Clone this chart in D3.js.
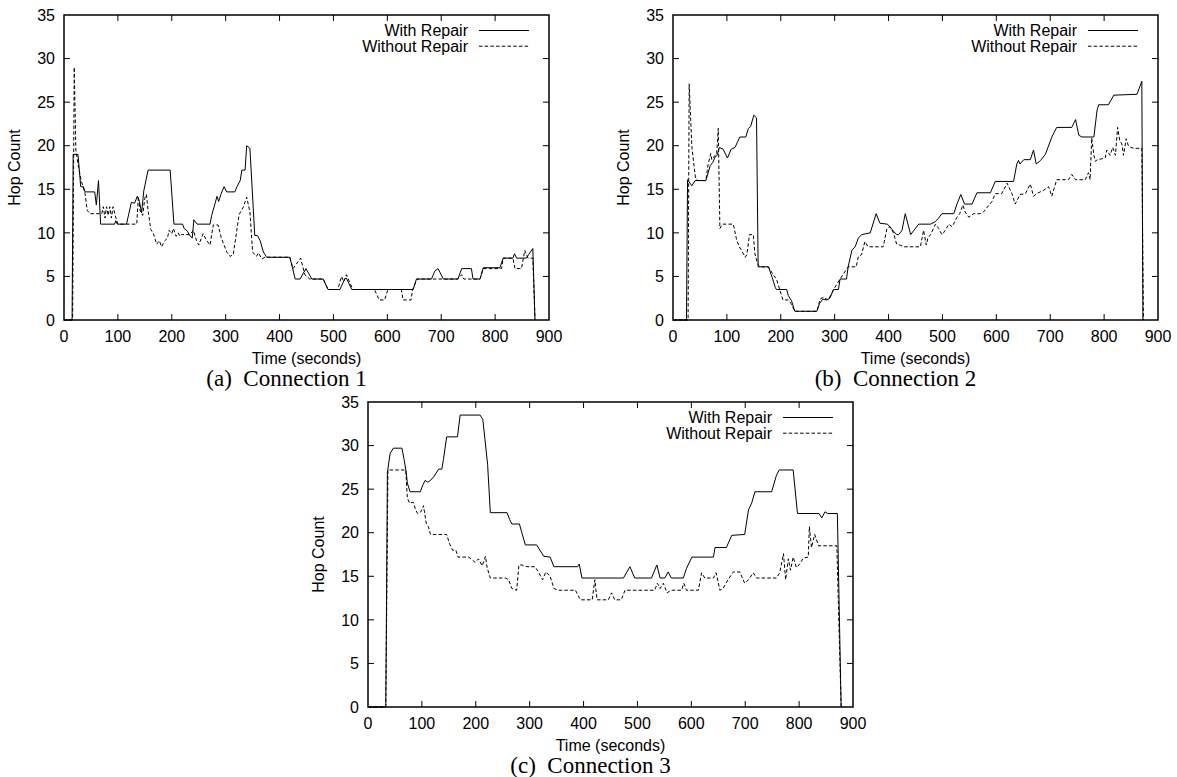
<!DOCTYPE html>
<html>
<head>
<meta charset="utf-8">
<script src="https://cdn.jsdelivr.net/npm/d3@7"></script>
<style>
  body { margin: 0; background: #fff; }
  svg text { font-family: "Liberation Sans", Arial, sans-serif; fill: #000; }
  svg text.caption { font-family: "Liberation Serif", "Times New Roman", serif; white-space: pre; }
</style>
</head>
<body>
<div id="chart"></div>
<script>
// axis ticks and labels
const xTicks = [0, 100, 200, 300, 400, 500, 600, 700, 800, 900];
const yTicks = [0, 5, 10, 15, 20, 25, 30, 35];
const seriesNames = ["With Repair", "Without Repair"];
const captions = ["(a)  Connection 1", "(b)  Connection 2", "(c)  Connection 3"];

// [time, hop count]
const conn1Repair = [[0,0],[15,0],[17,19],[26,19],[31,15.3],[36,15.3],[39,14.7],[57,14.7],[60,13.2],[64,16],[68,11],[94,11],[96,11.4],[99,11],[116,11],[125,13.5],[131,13.4],[136,14.2],[140,13.6],[144,12.3],[148,14.8],[156,17.2],[197,17.2],[204,11],[220,11],[223,10.5],[229,10.2],[232,9.8],[238,9.4],[241,11.5],[247,11],[271,11],[274,12],[280,13.3],[284,14.2],[287,13.6],[291,14.4],[297,15.3],[302,14.7],[317,14.7],[321,15.3],[327,16],[330,17.2],[336,17.2],[339,20],[345,19.7],[354,9.7],[359,9.7],[364,9.1],[370,7.8],[376,7.2],[419,7.2],[424,6],[429,4.7],[438,4.7],[449,5.9],[460,4.7],[481,4.7],[490,3.5],[512,3.5],[521,4.7],[524,4.8],[534,3.5],[648,3.5],[654,4.7],[682,4.7],[688,5.6],[694,5.9],[704,4.7],[731,4.7],[738,5.9],[756,5.9],[759,4.7],[772,4.7],[778,6],[809,6],[815,7.1],[833,7.1],[836,7.6],[840,7.1],[858,7.1],[862,7.5],[870,8.2],[874,0]];
const conn1NoRepair = [[0,0],[16,0],[19,29],[22,19.5],[27,17.5],[32,16],[39,14.5],[43,12.6],[48,12.2],[70,12.2],[73,13],[76,11.7],[79,13],[82,12],[85,13],[88,11.7],[91,13],[96,11.8],[100,11],[135,11],[138,14.2],[141,12.6],[146,12],[150,14],[153,14.4],[156,12.6],[161,10.4],[166,9.9],[172,8.7],[177,9.1],[181,8.4],[187,9.1],[192,9.4],[195,10.3],[200,9.9],[203,10.5],[208,9.6],[212,10],[215,9.6],[218,9.8],[234,9.8],[240,10.3],[246,9.1],[250,8.6],[258,9.9],[265,9.1],[271,8.6],[277,10.9],[286,10.9],[292,9.4],[302,7.8],[308,7.3],[314,7.5],[320,10],[325,12.1],[333,13],[339,14.1],[345,12.4],[350,7.8],[357,7.3],[361,7.7],[367,7],[373,7.2],[419,7.2],[425,5.9],[439,7.1],[447,5.2],[456,4.7],[481,4.7],[490,3.5],[508,3.5],[515,5],[519,4.4],[524,5.2],[536,3.5],[576,3.5],[585,2.3],[595,2.3],[601,3.5],[626,3.5],[629,2.3],[644,2.3],[647,3.5],[655,4.7],[731,4.7],[738,5.2],[742,4.7],[772,4.7],[778,5.9],[812,5.9],[815,7.1],[833,7.1],[837,5.9],[849,5.9],[855,8],[861,7.1],[870,7.1],[874,0]];

const conn2Repair = [[0,0],[25,0],[27,16.1],[35,15.4],[41,16],[61,16],[69,17.7],[74,18.1],[78,18.7],[82,18.9],[86,19.8],[93,19.6],[101,18.6],[108,19.6],[115,19.8],[124,21],[135,21],[140,22],[144,22.2],[150,23.5],[155,23.2],[158,6.1],[177,6.1],[180,5.6],[185,4.7],[190,3.7],[192,3.5],[211,3.5],[214,2.8],[220,2.2],[226,1],[267,1],[272,1.9],[278,2.4],[285,2.3],[291,2.5],[298,3.5],[307,3.5],[310,4.7],[322,4.7],[325,6.1],[332,8],[338,8.4],[344,9.4],[350,9.8],[366,10],[377,12.2],[384,11.1],[398,11],[409,10.2],[415,9.8],[419,9.8],[425,10.3],[431,12.2],[441,9.8],[456,11],[478,11],[487,11.3],[493,11.7],[499,12.2],[521,12.2],[527,13.3],[534,14.4],[541,13.3],[555,13.3],[564,14.6],[589,14.6],[598,15.9],[632,15.9],[638,17.9],[641,18.3],[644,17.9],[651,18.4],[663,18.4],[669,19.5],[674,17.9],[682,18.3],[691,19],[703,21],[712,22.1],[740,22.1],[747,23],[753,21.2],[759,21],[781,21],[787,24.1],[790,24.7],[808,24.7],[818,25.8],[861,25.9],[870,27.4],[872,0]];
const conn2NoRepair = [[0,0],[28,0],[30,27.1],[35,19.9],[39,17.7],[42,16.2],[46,16],[61,16],[65,17.8],[70,19.1],[72,18.4],[78,18.9],[81,19],[84,22],[87,10.5],[92,11],[112,11],[118,9.2],[123,8.4],[127,8],[134,7.2],[137,7.5],[142,9.8],[149,9.8],[152,7.6],[156,6.7],[160,6.1],[177,6.1],[186,5.2],[192,4.7],[198,3.5],[204,2.3],[214,2.3],[219,1.9],[226,1],[267,1],[273,2.4],[279,2.6],[288,2.3],[298,3.5],[310,4.7],[325,6.1],[340,6.1],[344,7.3],[350,7.5],[356,9],[362,8.4],[390,8.4],[397,10.5],[403,10.7],[409,10],[415,8.7],[421,8.6],[428,8.4],[459,8.4],[465,10.3],[470,8.6],[473,9.4],[478,9.8],[487,11],[493,10.5],[499,9.8],[502,10],[512,11],[518,10.7],[527,11.8],[532,12.2],[538,13.2],[542,12.4],[549,11.8],[558,12.2],[570,12.2],[576,12.4],[592,13.6],[598,14.5],[610,14.5],[620,15.7],[629,14.5],[635,13.3],[644,14.4],[654,14.5],[663,15.6],[669,14.2],[675,14.5],[688,14.9],[697,15.3],[703,14.2],[712,16.1],[734,16.1],[740,16.7],[747,16.1],[765,16.1],[771,16.9],[774,16.1],[777,20.9],[781,18.9],[784,18.2],[787,18.4],[796,18.5],[802,18.6],[805,19.5],[811,18.9],[816,19.8],[821,18.9],[825,22.1],[829,20.6],[833,20.2],[836,18.9],[841,20.8],[845,20],[850,19.8],[855,19.7],[870,19.7],[873,0]];

const conn3Repair = [[0,0],[33,0],[36,26.9],[41,29.1],[47,29.7],[63,29.7],[67,28.4],[71,26.9],[73,25.7],[78,24.7],[97,24.7],[102,25.5],[106,26],[111,25.8],[116,26],[123,26.5],[131,27.3],[137,27.3],[140,28.4],[146,31],[166,31],[171,33.5],[208,33.5],[213,33],[217,30.7],[222,27.8],[227,22.3],[258,22.3],[263,21.5],[267,21],[281,21],[285,20.1],[292,18.6],[313,18.6],[319,18],[326,17.3],[338,17.2],[345,16.1],[389,16.1],[392,16.4],[397,14.8],[474,14.8],[486,16.1],[495,14.8],[526,14.8],[536,16.3],[542,14.8],[551,14.8],[557,15.5],[563,14.8],[585,14.8],[591,15.9],[601,17.2],[641,17.2],[644,18.3],[665,18.3],[675,19.7],[699,19.8],[706,22.6],[712,23.4],[718,24.7],[749,24.7],[758,26.6],[763,27.2],[789,27.2],[797,22.2],[837,22.2],[842,21.7],[848,22.4],[853,22.2],[871,22.2],[878,0]];
const conn3NoRepair = [[0,0],[33,0],[37,27.2],[70,27.2],[73,24],[77,23.4],[84,23.5],[88,22.7],[92,22.2],[98,22.4],[103,23.1],[108,21.1],[112,20.7],[116,19.8],[146,19.8],[151,18.8],[157,18],[163,18],[167,17.2],[187,17.2],[193,16.9],[199,16.6],[205,17],[212,16.2],[218,17.3],[221,16],[227,14.8],[255,14.8],[261,14.6],[267,13.6],[276,13.4],[280,16.3],[286,16.3],[295,16.1],[310,16.1],[317,15.4],[324,14.6],[330,15.5],[338,15],[345,13.6],[354,13.4],[385,13.4],[394,12.3],[416,12.3],[421,14.6],[425,12.3],[446,12.3],[452,13.1],[458,12.3],[470,12.3],[477,13.4],[532,13.4],[537,14.2],[542,13.6],[548,14.2],[555,13.1],[562,13.4],[582,13.4],[586,14.2],[591,13.4],[613,13.4],[619,15.4],[625,14.8],[641,14.8],[646,15.4],[653,13.4],[659,13.6],[668,14.6],[678,15.5],[690,15.5],[699,14.2],[706,14.6],[715,15.4],[721,14.8],[758,14.8],[764,15.4],[771,17.6],[775,14.6],[780,17],[784,15.7],[789,17.2],[795,16],[801,16.4],[808,17.1],[817,17.2],[819,20.7],[823,18.3],[829,19.8],[836,18.5],[870,18.5],[878,0]];

const panels = [
  { left: 64, top: 15, caption: captions[0], series: [conn1Repair, conn1NoRepair] },
  { left: 673, top: 15, caption: captions[1], series: [conn2Repair, conn2NoRepair] },
  { left: 368, top: 402, caption: captions[2], series: [conn3Repair, conn3NoRepair] }
];

const W = 1177, H = 777;
const pw = 485, ph = 305;
const dashes = [null, "3.5,2.2"];

const svg = d3.select("#chart")
  .append("svg")
  .attr("width", W)
  .attr("height", H)
  .style("display", "block");

svg.append("rect").attr("width", W).attr("height", H).attr("fill", "#fff");

const x = d3.scaleLinear().domain([0, 900]).range([0, pw]);
const y = d3.scaleLinear().domain([0, 35]).range([ph, 0]);

const line = d3.line()
  .x((d) => x(d[0]))
  .y((d) => y(d[1]));

panels.forEach((p) => {
  const g = svg.append("g").attr("transform", `translate(${p.left},${p.top})`);

  // inward ticks on all four sides (gnuplot mirror style)
  const ticks = g.append("g").attr("stroke", "#000").attr("stroke-width", 1);
  xTicks.slice(1, -1).forEach((t) => {
    ticks.append("line").attr("x1", x(t)).attr("x2", x(t)).attr("y1", ph).attr("y2", ph - 6);
    ticks.append("line").attr("x1", x(t)).attr("x2", x(t)).attr("y1", 0).attr("y2", 6);
  });
  yTicks.slice(1, -1).forEach((t) => {
    ticks.append("line").attr("x1", 0).attr("x2", 6).attr("y1", y(t)).attr("y2", y(t));
    ticks.append("line").attr("x1", pw).attr("x2", pw - 6).attr("y1", y(t)).attr("y2", y(t));
  });

  // data lines
  p.series.forEach((s, i) => {
    g.append("path")
      .datum(s)
      .attr("d", line)
      .attr("fill", "none")
      .attr("stroke", "#000")
      .attr("stroke-width", 1)
      .attr("stroke-linejoin", "round")
      .attr("stroke-dasharray", dashes[i]);
  });

  // frame
  g.append("rect")
    .attr("width", pw)
    .attr("height", ph)
    .attr("fill", "none")
    .attr("stroke", "#000")
    .attr("stroke-width", 1.5);

  // tick labels
  g.selectAll(".xl")
    .data(xTicks)
    .enter()
    .append("text")
    .attr("x", (d) => x(d))
    .attr("y", ph + 22)
    .attr("text-anchor", "middle")
    .style("font-size", "16px")
    .text((d) => d);

  g.selectAll(".yl")
    .data(yTicks)
    .enter()
    .append("text")
    .attr("x", -9)
    .attr("y", (d) => y(d))
    .attr("dy", "0.36em")
    .attr("text-anchor", "end")
    .style("font-size", "16px")
    .text((d) => d);

  // axis titles
  g.append("text")
    .attr("x", pw / 2)
    .attr("y", ph + 44)
    .attr("text-anchor", "middle")
    .style("font-size", "16px")
    .text("Time (seconds)");

  g.append("text")
    .attr("transform", `translate(-44,${ph / 2}) rotate(-90)`)
    .attr("text-anchor", "middle")
    .style("font-size", "16px")
    .text("Hop Count");

  g.append("text")
    .attr("class", "caption")
    .attr("x", pw / 2 - 20)
    .attr("y", ph + 66)
    .attr("text-anchor", "middle")
    .style("font-size", "23px")
    .text(p.caption);

  // legend
  seriesNames.forEach((name, i) => {
    const ly = 15.5 + i * 15.7;
    g.append("text")
      .attr("x", pw - 81)
      .attr("y", ly + 5.8)
      .attr("text-anchor", "end")
      .style("font-size", "16px")
      .text(name);
    g.append("line")
      .attr("x1", pw - 70)
      .attr("x2", pw - 20)
      .attr("y1", ly)
      .attr("y2", ly)
      .attr("stroke", "#000")
      .attr("stroke-width", 1)
      .attr("stroke-dasharray", dashes[i]);
  });
});
</script>
</body>
</html>
